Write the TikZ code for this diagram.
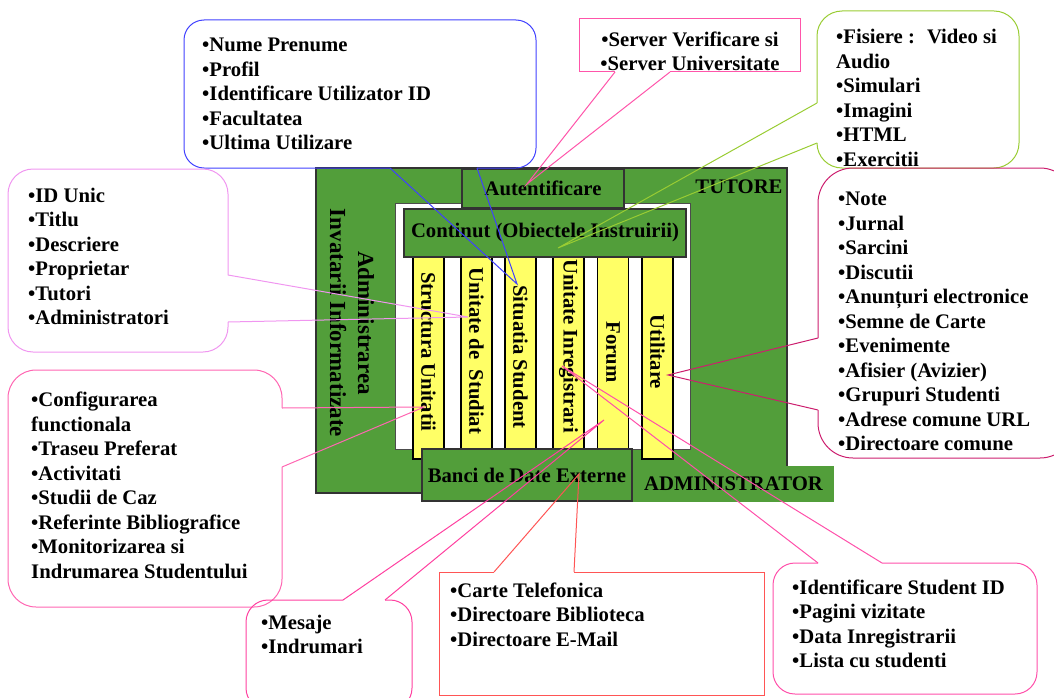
\documentclass[tikz,border=0pt]{standalone}
\usepackage{fontspec}
\setmainfont{Liberation Serif}

\definecolor{lmsgreen}{RGB}{82,158,58}
\definecolor{lmsyellow}{RGB}{255,255,102}
\definecolor{cblue}{RGB}{64,64,255}
\definecolor{cserv}{RGB}{255,85,170}
\definecolor{colive}{RGB}{153,204,51}
\definecolor{cviolet}{RGB}{240,150,240}
\definecolor{cpink}{RGB}{255,102,178}
\definecolor{crose}{RGB}{255,64,160}
\definecolor{csalmon}{RGB}{255,85,85}
\definecolor{cmag}{RGB}{255,80,170}
\definecolor{ccrimson}{RGB}{204,30,110}

\newcommand{\lmsfont}{\bfseries\fontsize{20.7}{24.5}\selectfont}

\begin{document}
\begin{tikzpicture}[x=1pt, y=-1pt,
    gbox/.style={draw=black!80, fill=lmsgreen, line width=1.2pt, inner sep=0pt, font=\lmsfont},
    ybar/.style={draw=black, fill=lmsyellow, line width=1.2pt, inner sep=0pt, minimum width=31pt, minimum height=204pt},
    vlabel/.style={rotate=-90, inner sep=0pt, font=\lmsfont},
    lst/.style={anchor=north west, inner sep=0pt, align=left, font=\lmsfont},
    co/.style={line width=1pt}]
    \useasboundingbox (0,0) rectangle (1054,698);

    % Frame
    \node[gbox, minimum width=471pt, minimum height=325pt] (lms) at (551.5,330.5) {};
    \node[draw=black!70, fill=white, line width=1pt, minimum width=295pt, minimum height=246pt] (inner) at (542.5,326) {};

    % Modules
    \node[ybar] (u1) at (428.5,357) {};
    \node[ybar] (u2) at (476.5,357) {};
    \node[ybar] (u3) at (520.5,357) {};
    \node[ybar] (u4) at (568.5,357) {};
    \node[ybar] (u5) at (613,357) {};
    \node[ybar] (u6) at (657.5,357) {};

    \node[gbox, minimum width=162pt, minimum height=39pt] (aut) at (543,188.5) {Autentificare};
    \node[gbox, minimum width=282pt, minimum height=48pt] (con) at (545,233) {Continut (Obiectele Instruirii)};
    \node[gbox, minimum width=210pt, minimum height=52pt] (ban) at (527,475) {Banci de Date Externe};
    \node[fill=lmsgreen, inner sep=0pt, minimum width=201pt, minimum height=36pt, font=\lmsfont] (adm) at (733.5,484) {ADMINISTRATOR};

    % Labels
    \node[font=\lmsfont, inner sep=0pt] (tut) at (739,187) {TUTORE};
    \node[rotate=-90, inner sep=0pt, align=center, font=\bfseries\fontsize{23}{28}\selectfont] (ainf) at (352,323) {Administrarea\\Invatarii Informatizate};
    \node[vlabel] (v1) at (428.5,352) {Structura Unitatii};
    \node[vlabel] (v2) at (476.5,351) {Unitate de~ Studiat};
    \node[vlabel] (v3) at (520.5,357) {Situatia Student};
    \node[vlabel] (v4) at (568.5,346) {Unitate Inregistrari};
    \node[vlabel] (v5) at (613,352) {Forum};
    \node[vlabel] (v6) at (657.5,352) {Utilitare};

    % Pointer tips
    \coordinate (p1) at (517,284);
    \coordinate (p2) at (527,184);
    \coordinate (p3) at (558,248);
    \coordinate (p4) at (468,317);
    \coordinate (p5) at (424,407);
    \coordinate (p6) at (604,420);
    \coordinate (p7) at (579,474);
    \coordinate (p8) at (562,366);
    \coordinate (p9) at (668,375);

    % Callouts
    \draw[co, cblue, rounded corners=20pt] (477,168) -- (536,168) -- (536,20) -- (184,20) -- (184,168) -- (390,168);
    \draw[co, cblue] (390,168) -- (p1) -- (477,168);
    \node[lst] (c1) at (202,34.5) {\strut•Nume Prenume\\•Profil\\•Identificare Utilizator ID\\•Facultatea\\•Ultima Utilizare};

    \draw[co, cserv] (670,72) -- (800,72) -- (800,19) -- (579,19) -- (579,72) -- (615,72);
    \draw[co, cserv] (615,72) -- (p2) -- (670,72);
    \node[lst, anchor=north, align=center] (c2) at (690,29) {\strut•Server Verificare si\\•Server Universitate};

    \draw[co, colive, rounded corners=25pt] (817,103) -- (817,11) -- (1019,11) -- (1019,168) -- (817,168) -- (817,143);
    \draw[co, colive] (817,103) -- (p3) -- (817,143);
    \node[lst] (c3) at (836,26.2) {\strut•Fisiere :~ Video si\\Audio\\•Simulari\\•Imagini\\•HTML\\•Exercitii};

    \draw[co, cviolet, rounded corners=25pt] (228,322) -- (228,352) -- (8,352) -- (8,169) -- (228,169) -- (228,275);
    \draw[co, cviolet] (228,275) -- (p4) -- (228,322);
    \node[lst] (c4) at (28,185) {\strut•ID Unic\\•Titlu\\•Descriere\\•Proprietar\\•Tutori\\•Administratori};

    \draw[co, cpink, rounded corners=28pt] (282,467) -- (282,607) -- (8,607) -- (8,370) -- (282,370) -- (282,408);
    \draw[co, cpink] (282,408) -- (p5) -- (282,467);
    \node[lst] (c5) at (31,389.5) {\strut•Configurarea\\functionala\\•Traseu Preferat\\•Activitati\\•Studii de Caz\\•Referinte Bibliografice\\•Monitorizarea si\\Indrumarea Studentului};

    \draw[co, crose, rounded corners=22pt] (343,600) -- (246,600) -- (246,710) -- (412,710) -- (412,600) -- (385,600);
    \draw[co, crose] (343,600) -- (p6) -- (385,600);
    \node[lst] (c6) at (261,612) {\strut•Mesaje\\•Indrumari};

    \draw[co, csalmon] (494,572) -- (439,572) -- (439,695) -- (764,695) -- (764,572) -- (574,572);
    \draw[co, csalmon] (494,572) -- (p7) -- (574,572);
    \node[lst] (c7) at (450,580) {\strut•Carte Telefonica\\•Directoare Biblioteca\\•Directoare E-Mail};

    \draw[co, cmag, rounded corners=22pt] (818,563) -- (773,563) -- (773,694) -- (1037,694) -- (1037,563) -- (882,563);
    \draw[co, cmag] (818,563) -- (p8) -- (882,563);
    \node[lst] (c8) at (792,577) {\strut•Identificare Student ID\\•Pagini vizitate\\•Data Inregistrarii\\•Lista cu studenti};

    \draw[co, ccrimson, rounded corners=35pt] (818,338) -- (818,168) -- (1075,168) -- (1075,458) -- (818,458) -- (818,410);
    \draw[co, ccrimson] (818,338) -- (p9) -- (818,410);
    \node[lst] (c9) at (838,188.5) {\strut•Note\\•Jurnal\\•Sarcini\\•Discutii\\•Anunțuri electronice\\•Semne de Carte\\•Evenimente\\•Afisier (Avizier)\\•Grupuri Studenti\\•Adrese comune URL\\•Directoare comune};
\end{tikzpicture}
\end{document}
